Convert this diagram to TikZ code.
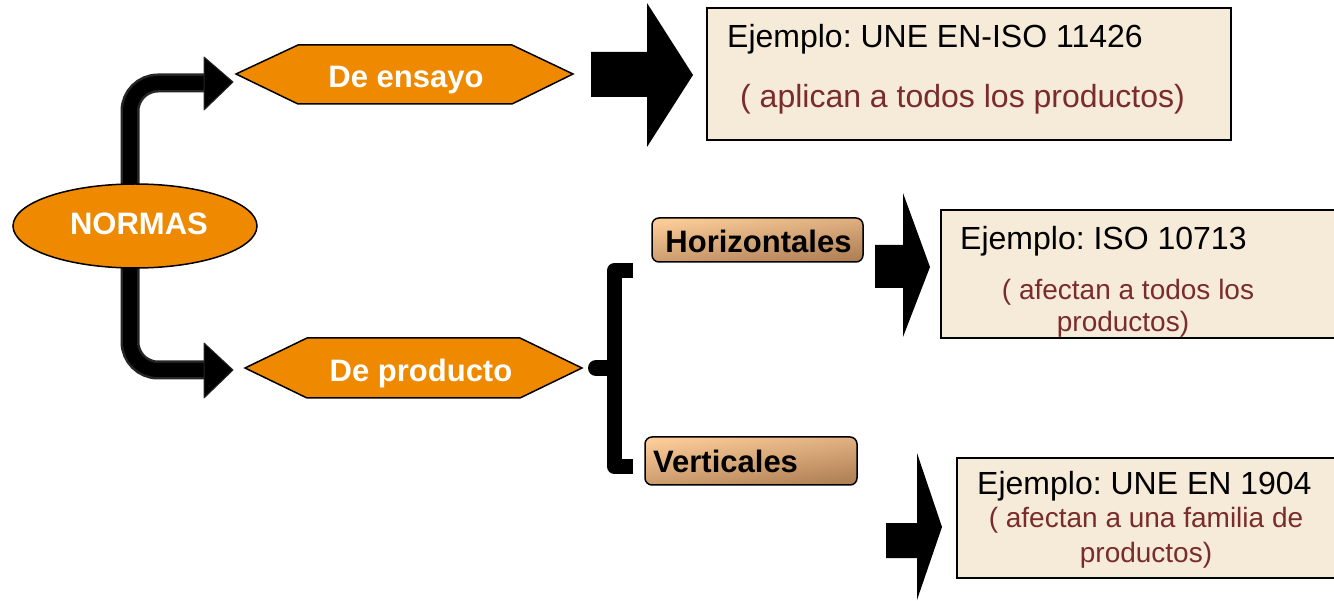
\documentclass[tikz,border=0pt]{standalone}
\usepackage{fontspec}
\setmainfont{Liberation Sans}
\frenchspacing
\usetikzlibrary{shapes.geometric,calc}
\definecolor{orng}{RGB}{238,137,0}
\definecolor{beige}{RGB}{246,235,216}
\definecolor{maroon}{RGB}{122,44,44}
\definecolor{peach}{RGB}{251,204,152}
\definecolor{tanb}{RGB}{176,128,86}
\tikzset{
  hexa/.style={fill=orng, draw=black, line width=1.5pt, line join=miter},
  whitebold/.style={text=white, font=\fontsize{31}{36}\selectfont\bfseries, inner sep=0, anchor=base},
  blackbold/.style={text=black, font=\fontsize{31}{36}\selectfont\bfseries, inner sep=0},
  examplebox/.style={fill=beige, draw=black, line width=2pt},
  big/.style={font=\fontsize{32}{38}\selectfont, inner sep=0, anchor=base west},
  note/.style={font=\fontsize{28}{34}\selectfont, text=maroon, inner sep=0, anchor=base},
  notebig/.style={font=\fontsize{32}{38}\selectfont, text=maroon, inner sep=0, anchor=base west},
  gradbox/.style={draw=black, line width=1.5pt, rounded corners=7pt, top color=peach, bottom color=tanb, shading angle=8, inner sep=0},
  blockarrow/.style={fill=black, draw=none},
  tubeout/.style={line width=19pt, draw=black!85, rounded corners=28pt},
  tubein/.style={line width=14pt, draw=black, rounded corners=28pt},
  tubehead/.style={fill=black, draw=black!85, line width=1pt, line join=round},
  bracket/.style={line width=15pt, draw=black, line join=round},
}
\begin{document}
\begin{tikzpicture}[x=1pt, y=-1pt]
\useasboundingbox (0,0) rectangle (1334,601);
\clip (0,0) rectangle (1334,601);

% curved tubes (behind the ellipse)
\coordinate (nc) at (135,226);
\coordinate (upend) at (207,83);
\coordinate (downend) at (207,370);
\draw[tubeout] ($(nc)+(-5,-20)$) |- (upend);
\draw[tubein] ($(nc)+(-5,-20)$) |- (upend);
\draw[tubeout] ($(nc)+(-5,20)$) |- (downend);
\draw[tubein] ($(nc)+(-5,20)$) |- (downend);
\fill[tubehead] (204,57) -- (233,82) -- (204,110) -- cycle;
\fill[tubehead] (204,343) -- (233,370) -- (204,398) -- cycle;

% NORMAS node
\node[ellipse, fill=orng, draw=black, line width=1.5pt, minimum width=244pt, minimum height=84pt, inner sep=0] (normas) at (nc) {};
\node[whitebold] (normastext) at (139,235) {NORMAS};

% hexagons
\path[hexa] (236,74) -- (298,45) -- (512,45) -- (573,74) -- (512,104) -- (298,104) -- cycle;
\node[whitebold] (ensayo) at (406,88) {De ensayo};
\path[hexa] (245,368) -- (307,338) -- (520,338) -- (582,368) -- (520,398) -- (307,398) -- cycle;
\node[whitebold] (producto) at (421,382) {De producto};

% bracket
\draw[bracket] (633,270.5) -- (614.5,270.5) -- (614.5,466.5) -- (633,466.5);
\draw[line width=16pt, line cap=round] (596,368) -- (614,368);

% gradient boxes
\node[gradbox, minimum width=211pt, minimum height=44pt] (horizbox) at (757.5,240) {};
\node[blackbold, anchor=base] (horiz) at (758.5,253) {Horizontales};
\node[gradbox, minimum width=212pt, minimum height=48pt] (vertbox) at (751,461) {};
\node[blackbold, anchor=base west] (vert) at (653,472) {Verticales};

% block arrows
\path[blockarrow] (591,52) -- (647,52) -- (647,3) -- (693,75) -- (647,147) -- (647,97) -- (591,97) -- cycle;
\path[blockarrow] (875,245) -- (903,245) -- (903,193) -- (930,267) -- (903,337) -- (903,288) -- (875,288) -- cycle;
\path[blockarrow] (886,523) -- (917,523) -- (917,453) -- (942,527) -- (917,600) -- (917,558) -- (886,558) -- cycle;

% example boxes
\draw[examplebox] (707,8) rectangle (1231,140);
\node[big] (ex1) at (727,48) {Ejemplo: UNE EN-ISO 11426};
\node[notebig] (n1) at (740,108) {( aplican a todos los productos)};

\draw[examplebox] (941,210) rectangle (1345,338);
\node[big] (ex2) at (960,250) {Ejemplo: ISO 10713};
\node[note] (n2a) at (1128,300) {( afectan a todos los};
\node[note] (n2b) at (1123,332) {productos)};

\draw[examplebox] (957,458) rectangle (1345,578);
\node[big] (ex3) at (977,495) {Ejemplo: UNE EN 1904};
\node[note] (n3a) at (1146,527) {( afectan a una familia de};
\node[note] (n3b) at (1146,562) {productos)};
\end{tikzpicture}
\end{document}
